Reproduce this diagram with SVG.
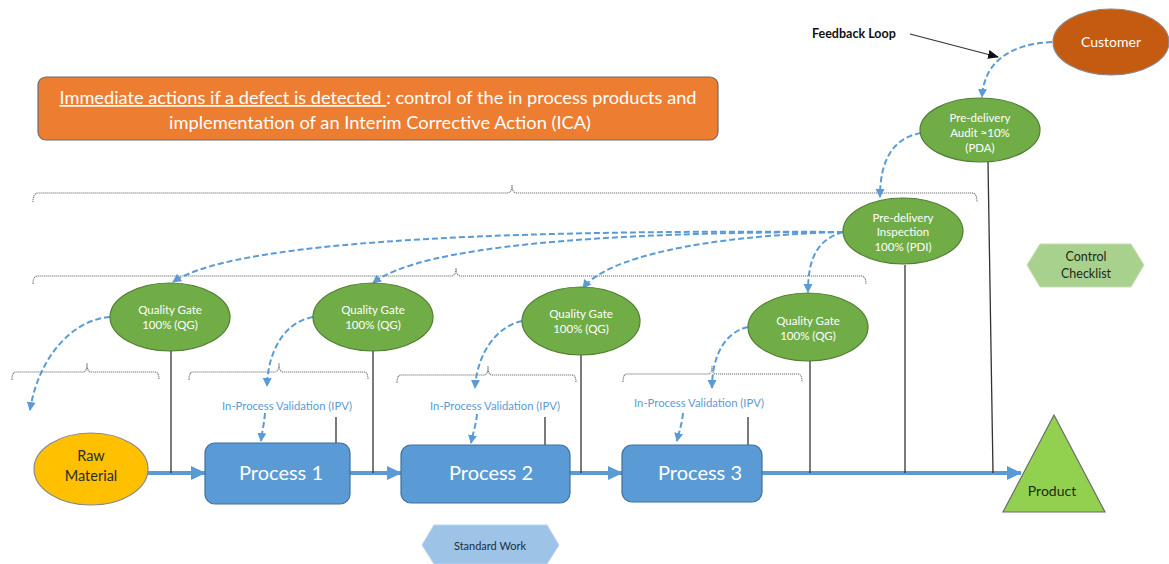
<svg xmlns="http://www.w3.org/2000/svg" width="1169" height="564" viewBox="0 0 1169 564">
  <defs>
    <marker id="flowHead" markerUnits="userSpaceOnUse" markerWidth="16" markerHeight="16" refX="14" refY="8" orient="auto">
      <path d="M0,1 L15,8 L0,15 Z" fill="#5B9BD5"/>
    </marker>
    <marker id="dashHead" markerUnits="userSpaceOnUse" markerWidth="10" markerHeight="10" refX="8" refY="5" orient="auto">
      <path d="M0,0.5 L9,5 L0,9.5 Z" fill="#5B9BD5"/>
    </marker>
    <marker id="blackHead" markerUnits="userSpaceOnUse" markerWidth="12" markerHeight="10" refX="10" refY="5" orient="auto">
      <path d="M0,0.5 L11,5 L0,9.5 Z" fill="#111"/>
    </marker>
  </defs>
  <style>
    .txt { font-family: Lato, "Open Sans", "Liberation Sans", sans-serif; text-anchor: middle; }
    .gate { fill: #70AD47; stroke: #507E32; stroke-width: 1.2; }
    .gate-t { fill: #ffffff; font-size: 11.5px; }
    .proc { fill: #5B9BD5; stroke: #41719C; stroke-width: 1.2; }
    .proc-t { fill: #ffffff; font-size: 20px; }
    .ipv { fill: #5B9BD5; font-size: 11.3px; }
    .brace { fill: none; stroke: #6f6f6f; stroke-width: 1.1; stroke-dasharray: 1.2 0.8; }
    .flow { fill: none; stroke: #5B9BD5; stroke-width: 4; marker-end: url(#flowHead); }
    .dash { fill: none; stroke: #5B9BD5; stroke-width: 2; stroke-dasharray: 6 3; marker-end: url(#dashHead); }
    .link { fill: none; stroke: #333; stroke-width: 1.3; }
  </style>

  <rect width="1169" height="564" fill="#ffffff"/>

  <!-- braces -->
  <g id="braces">
    <path class="brace" d="M33,202 Q33,193 38,193 H507 Q512,193 512,185 Q512,193 517,193 H972 Q977,193 977,202"/>
    <path class="brace" d="M33,284 Q33,276 38,276 H451 Q456,276 456,268 Q456,276 461,276 H861 Q866,276 866,284"/>
    <path class="brace" d="M12,380 Q12,372 16,372 H83 Q87,372 87,363 Q87,372 91,372 H155 Q159,372 159,380"/>
    <path class="brace" d="M189,380 Q189,372 193,372 H275 Q279,372 279,363 Q279,372 283,372 H364 Q368,372 368,380"/>
    <path class="brace" d="M397,383 Q397,375 401,375 H484 Q488,375 488,366 Q488,375 492,375 H572 Q576,375 576,383"/>
    <path class="brace" d="M623,382 Q623,374 627,374 H708 Q712,374 712,366 Q712,374 716,374 H798 Q802,374 802,382"/>
  </g>

  <!-- connectors -->
  <g id="connectors">
    <!-- main material flow -->
    <path class="flow" d="M147,473 H205"/>
    <path class="flow" d="M350,473 H401"/>
    <path class="flow" d="M570,473 H622"/>
    <path class="flow" d="M762,473 H1021"/>

    <!-- control links from gates to the flow -->
    <path class="link" d="M171,351 V473"/>
    <path class="link" d="M373,351 V473"/>
    <path class="link" d="M581,355 V473"/>
    <path class="link" d="M810,361 V473"/>
    <path class="link" d="M905,265 V473"/>
    <path class="link" d="M988,162 L993,473"/>
    <path class="link" d="M336,417 V443"/>
    <path class="link" d="M545,417 V445"/>
    <path class="link" d="M748,417 V445"/>

    <!-- feedback paths -->
    <path class="dash" d="M1052,42 C1010,44 984,62 982,97"/>
    <path class="dash" d="M921,133 C893,138 880,160 880,197"/>
    <path class="dash" d="M843,232 C560,230 240,236 173,282"/>
    <path class="dash" d="M843,232 C600,232 420,246 373,283"/>
    <path class="dash" d="M843,232 C700,236 606,258 583,288"/>
    <path class="dash" d="M843,232 C815,240 808,262 808,292"/>
    <path class="dash" d="M110,317 C70,320 38,360 30,410"/>
    <path class="dash" d="M313,317 C285,322 268,350 267,386"/>
    <path class="dash" d="M522,321 C495,327 477,355 475,388"/>
    <path class="dash" d="M748,327 C722,333 712,360 712,388"/>
    <path class="dash" d="M265,413 C264,425 262,432 261,441"/>
    <path class="dash" d="M477,414 C476,425 473,433 471,443"/>
    <path class="dash" d="M683,413 C682,424 679,432 677,441"/>

    <!-- callout -->
    <path d="M910,34 L998,57" fill="none" stroke="#333" stroke-width="1.2" marker-end="url(#blackHead)"/>
  </g>

  <!-- immediate actions banner -->
  <g id="immediate-actions">
    <rect x="38" y="77" width="680" height="63" rx="8" fill="#ED7D31" stroke="#6d6d6d" stroke-width="1.2"/>
    <text class="txt" x="378" y="104" fill="#ffffff" font-size="17" textLength="637" lengthAdjust="spacingAndGlyphs"><tspan text-decoration="underline">Immediate actions if a defect is detected </tspan>: control of the in process products and</text>
    <text class="txt" x="380" y="129" fill="#ffffff" font-size="17" textLength="422" lengthAdjust="spacingAndGlyphs">implementation of an Interim Corrective Action (ICA)</text>
  </g>

  <g id="feedback-label">
    <text x="812" y="38" font-family="Lato, 'Liberation Sans', sans-serif" font-weight="bold" font-size="12.5" fill="#111">Feedback Loop</text>
  </g>

  <g id="customer">
    <ellipse cx="1111" cy="42" rx="58" ry="33" fill="#C55A11" stroke="#8a8a8a" stroke-width="1.2"/>
    <text class="txt" x="1111" y="47" fill="#ffffff" font-size="14">Customer</text>
  </g>

  <g id="pda">
    <ellipse class="gate" cx="980" cy="130" rx="60" ry="32"/>
    <text class="txt gate-t" x="980" y="122">Pre-delivery</text>
    <text class="txt gate-t" x="980" y="137">Audit ≈10%</text>
    <text class="txt gate-t" x="980" y="152">(PDA)</text>
  </g>

  <g id="pdi">
    <ellipse class="gate" cx="903" cy="231" rx="60" ry="33"/>
    <text class="txt gate-t" x="903" y="222">Pre-delivery</text>
    <text class="txt gate-t" x="903" y="236">Inspection</text>
    <text class="txt gate-t" x="903" y="251">100% (PDI)</text>
  </g>

  <g id="qg1">
    <ellipse class="gate" cx="170" cy="317" rx="60" ry="34"/>
    <text class="txt gate-t" x="170" y="314">Quality Gate</text>
    <text class="txt gate-t" x="170" y="329">100% (QG)</text>
  </g>

  <g id="qg2">
    <ellipse class="gate" cx="373" cy="317" rx="60" ry="34"/>
    <text class="txt gate-t" x="373" y="314">Quality Gate</text>
    <text class="txt gate-t" x="373" y="329">100% (QG)</text>
  </g>

  <g id="qg3">
    <ellipse class="gate" cx="581" cy="321" rx="59" ry="34"/>
    <text class="txt gate-t" x="581" y="318">Quality Gate</text>
    <text class="txt gate-t" x="581" y="333">100% (QG)</text>
  </g>

  <g id="qg4">
    <ellipse class="gate" cx="808" cy="327" rx="60" ry="34"/>
    <text class="txt gate-t" x="808" y="325">Quality Gate</text>
    <text class="txt gate-t" x="808" y="340">100% (QG)</text>
  </g>

  <g id="control-checklist">
    <path d="M1027,265 L1040,244 H1131 L1144,265 L1131,287 H1040 Z" fill="#A9D18E" stroke="#c5ddb5" stroke-width="1"/>
    <text class="txt" x="1086" y="261" fill="#1e2a14" font-size="12.5">Control</text>
    <text class="txt" x="1086" y="278" fill="#1e2a14" font-size="12.5">Checklist</text>
  </g>

  <g id="ipv-labels">
    <text class="txt ipv" x="287" y="410">In-Process Validation (IPV)</text>
    <text class="txt ipv" x="495" y="410">In-Process Validation (IPV)</text>
    <text class="txt ipv" x="699" y="407">In-Process Validation (IPV)</text>
  </g>

  <g id="raw-material">
    <ellipse cx="91" cy="469" rx="57" ry="36" fill="#FFC000" stroke="#8a8a8a" stroke-width="1.2"/>
    <text class="txt" x="91" y="461" fill="#2b2b2b" font-size="14.5">Raw</text>
    <text class="txt" x="91" y="481" fill="#2b2b2b" font-size="14.5">Material</text>
  </g>

  <g id="process-1">
    <rect class="proc" x="205" y="443" width="145" height="61" rx="10"/>
    <text class="txt proc-t" x="281" y="480">Process 1</text>
  </g>

  <g id="process-2">
    <rect class="proc" x="401" y="445" width="169" height="58" rx="10"/>
    <text class="txt proc-t" x="491" y="480">Process 2</text>
  </g>

  <g id="process-3">
    <rect class="proc" x="622" y="445" width="140" height="57" rx="10"/>
    <text class="txt proc-t" x="700" y="480">Process 3</text>
  </g>

  <g id="product">
    <path d="M1054,415 L1105,512 L1003,512 Z" fill="#92D050" stroke="#6b6b6b" stroke-width="1.2"/>
    <text class="txt" x="1052" y="496" fill="#1e2a14" font-size="14">Product</text>
  </g>

  <g id="standard-work">
    <path d="M422,545 L434,525 H547 L559,545 L547,564 H434 Z" fill="#9DC3E6" stroke="#b8d3ec" stroke-width="1"/>
    <text class="txt" x="490" y="550" fill="#1f2d3a" font-size="11">Standard Work</text>
  </g>
</svg>
